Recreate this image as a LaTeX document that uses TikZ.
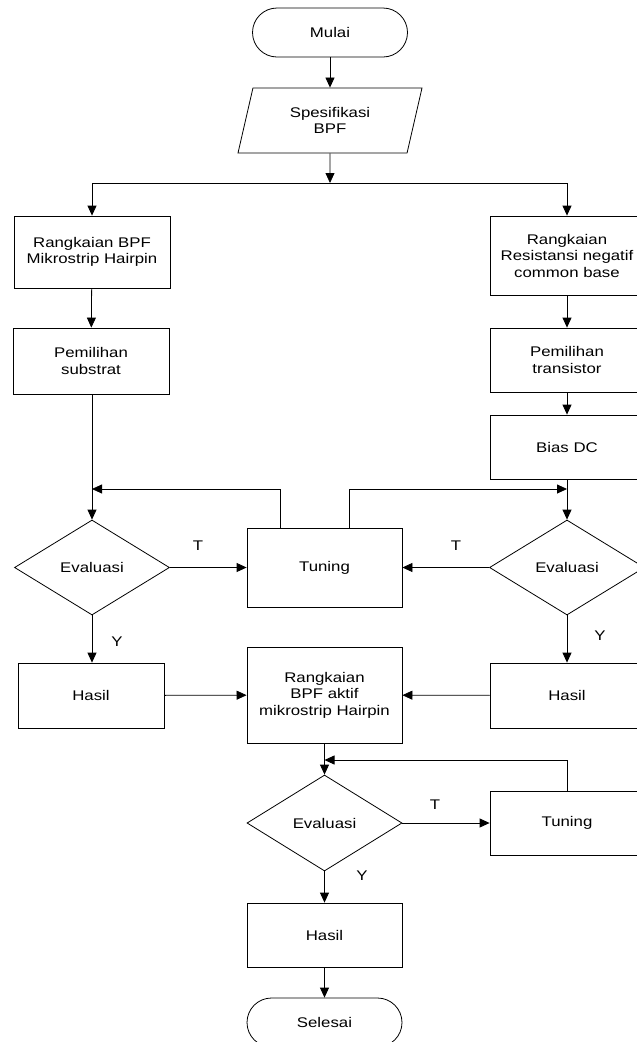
\documentclass[tikz,border=0pt]{standalone}
\usepackage{fontspec}
\setmainfont{Liberation Sans}[FakeStretch=1.2]
\usepackage{tikz}
\usetikzlibrary{shapes.geometric,arrows.meta}
\newcommand\nodemulai{Mulai}
\newcommand\nodespek{Spesifikasi\\BPF}
\newcommand\noderbpf{Rangkaian BPF\\Mikrostrip Hairpin}
\newcommand\noderneg{Rangkaian\\Resistansi negatif\\common base}
\newcommand\nodesubs{Pemilihan\\substrat}
\newcommand\nodetrans{Pemilihan\\transistor}
\newcommand\nodebias{Bias DC}
\newcommand\nodeeval{Evaluasi}
\newcommand\nodetuning{Tuning}
\newcommand\nodehasil{Hasil}
\newcommand\nodeaktif{Rangkaian\\BPF aktif\\mikrostrip Hairpin}
\newcommand\nodeselesai{Selesai}
\tikzstyle{flownode} = [align=center, draw, text=black, inner sep=2pt]
\tikzstyle{proc} = [flownode, rectangle]
\tikzstyle{term} = [flownode, rectangle, rounded corners=24.5pt, minimum width=155pt, minimum height=49pt]
\tikzstyle{dec} = [flownode, diamond, inner sep=0pt, minimum width=155pt, minimum height=95pt]
\tikzstyle{io} = [flownode, trapezium, trapezium left angle=64, trapezium right angle=116, trapezium stretches body, minimum width=184pt, minimum height=65pt]
\tikzset{>={Triangle[length=10pt,width=9pt]}, every picture/.style={line width=0.8pt}}
\begin{document}
\begin{tikzpicture}[x=1pt, y=-1pt, font=\fontsize{14}{16.5}\selectfont]
\useasboundingbox (0,0) rectangle (637,1042);
\node[term] (mulai) at (330,32.5) {\nodemulai};
\node[io] (spek) at (330,120.5) {\nodespek};
\node[proc, minimum width=156pt, minimum height=72pt] (rbpf) at (92,252) {\noderbpf};
\node[proc, minimum width=156pt, minimum height=66pt] (subs) at (91,361) {\nodesubs};
\node[proc, minimum width=154pt, minimum height=79pt] (rneg) at (567,255.5) {\noderneg};
\node[proc, minimum width=154pt, minimum height=64pt] (trans) at (567,360) {\nodetrans};
\node[proc, minimum width=154pt, minimum height=64pt] (bias) at (567,447) {\nodebias};
\node[dec] (ev1) at (92,567.5) {\nodeeval};
\node[dec] (ev2) at (567,567.5) {\nodeeval};
\node[proc, minimum width=155pt, minimum height=79pt] (tun1) at (324.5,567.5) {\nodetuning};
\node[proc, minimum width=146pt, minimum height=65pt] (has1) at (91,695.5) {\nodehasil};
\node[proc, minimum width=154pt, minimum height=65pt] (has2) at (567,695.5) {\nodehasil};
\node[proc, minimum width=155pt, minimum height=96pt] (aktif) at (324.5,695) {\nodeaktif};
\node[dec, minimum height=96pt] (ev3) at (324.5,823) {\nodeeval};
\node[proc, minimum width=154pt, minimum height=64pt] (tun2) at (567,823) {\nodetuning};
\node[proc, minimum width=155pt, minimum height=64pt] (has3) at (324.5,935) {\nodehasil};
\node[term] (selesai) at (324.5,1022.5) {\nodeselesai};
\node (t1) at (198,546) {T};
\node (t2) at (456,546) {T};
\node (y1) at (117,642) {Y};
\node (y2) at (600,636) {Y};
\node (t3) at (435,805) {T};
\node (y3) at (362,876) {Y};
\coordinate (cab) at (330,183);
\coordinate (fb1) at (92,489);
\coordinate (fb2) at (567,489);
\coordinate (fb3) at (324.5,760);
\draw [->] (mulai) -- (spek);
\draw [->] (spek) -- (cab);
\draw [->] (cab) -| (rbpf);
\draw [->] (cab) -| (rneg);
\draw [->] (rbpf) -- (subs);
\draw [->] (subs.south -| ev1) -- (ev1);
\draw [->] (rneg) -- (trans);
\draw [->] (trans) -- (bias);
\draw [->] (bias) -- (ev2);
\draw [->] (ev1) -- (tun1);
\draw [->] (ev2) -- (tun1);
\draw [->] ([xshift=-44.5pt]tun1.north) |- (fb1);
\draw [->] ([xshift=24.5pt]tun1.north) |- (fb2);
\draw [->] (ev1) -- (has1.north -| ev1);
\draw [->] (ev2) -- (has2);
\draw [->] (has1) -- (aktif);
\draw [->] (has2) -- (aktif);
\draw [->] (aktif) -- (ev3);
\draw [->] (tun2) |- (fb3);
\draw [->] (ev3) -- (tun2);
\draw [->] (ev3) -- (has3);
\draw [->] (has3) -- (selesai);
\end{tikzpicture}
\end{document}
